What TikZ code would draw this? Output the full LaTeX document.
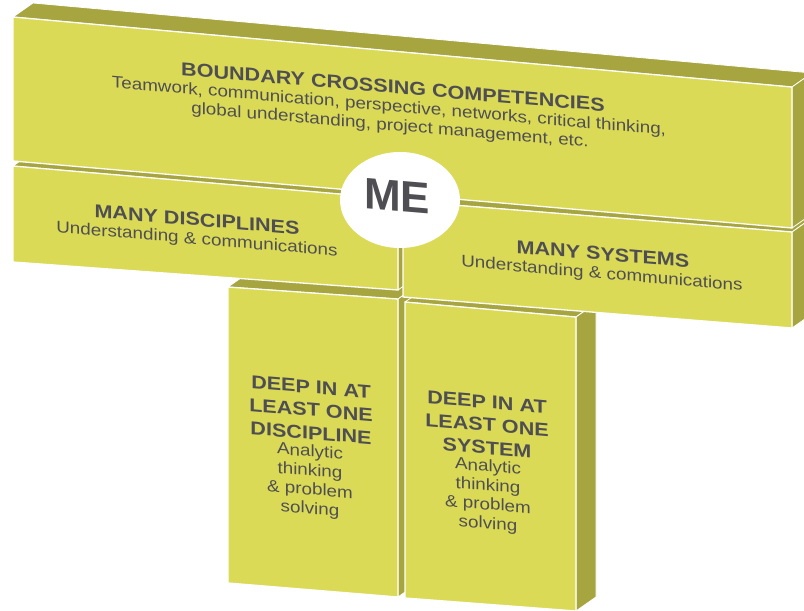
\documentclass[tikz,border=0pt]{standalone}
\usepackage{fontspec}
\setmainfont{Liberation Sans}
\usetikzlibrary{calc,shapes.geometric}
\definecolor{faceyellow}{HTML}{DBDA57}
\definecolor{sideolive}{HTML}{A7A53F}
\definecolor{labelgray}{HTML}{4F4F53}
% A slab seen from the front: its top face, its right side face and its front face.
% Arguments: front corners top-left, top-right, bottom-right, bottom-left.
\newcommand\slab[4]{%
  \path[shade] #1 -- #2 -- ($#2+(20,-14)$) -- ($#1+(20,-14)$) -- cycle;
  \path[shade] #2 -- ($#2+(20,-14)$) -- ($#3+(20,-14)$) -- #3 -- cycle;
  \path[face] #1 -- #2 -- #3 -- #4 -- cycle;
}
\begin{document}
\begin{tikzpicture}[x=1pt,y=-1pt,
  face/.style={fill=faceyellow, draw=white, line width=1.3pt, line join=miter},
  shade/.style={fill=sideolive, draw=white, line width=0.8pt, line join=round},
  lbl/.style={text=labelgray, inner sep=0pt, align=center, yslant=-0.085},
  head/.style={lbl, xscale=1.16, font=\bfseries\fontsize{18.6pt}{23pt}\selectfont},
  body/.style={lbl, xscale=1.14, font=\fontsize{16.5pt}{19pt}\selectfont},
]
\useasboundingbox (0,0) rectangle (804,611);
\clip (0,0) rectangle (804,611);

% the two columns
\slab{(228,287)}{(398,299)}{(398,597)}{(228,583)}
\slab{(405,302)}{(576,317)}{(576,611)}{(405,598)}
% the two middle bars
\slab{(13,166)}{(398,199)}{(398,290)}{(13,262)}
\slab{(403,201)}{(792,232)}{(792,328)}{(403,297)}
% the top bar
\slab{(13,17)}{(792,87)}{(792,228)}{(13,161)}

% centre disc
\node[ellipse, fill=white, minimum width=120pt, minimum height=96pt, inner sep=0pt] (disc) at (400,200) {};
\node[lbl, font=\bfseries\fontsize{44pt}{46pt}\selectfont] (me) at (397,196) {ME};

% top bar labels
\node[head] (bc) at (393,87) {BOUNDARY CROSSING COMPETENCIES};
\node[body] (bc1) at (389,107) {Teamwork, communication, perspective, networks, critical thinking,};
\node[body] (bc2) at (390,126) {global understanding, project management, etc.};

% middle bar labels
\node[head] (md) at (197,219.5) {MANY DISCIPLINES};
\node[body] (md1) at (197,240) {Understanding \& communications};
\node[head] (ms) at (603,254) {MANY SYSTEMS};
\node[body] (ms1) at (602,274.5) {Understanding \& communications};

% column labels
\node[head] (dd) at (311,410) {DEEP IN AT\\LEAST ONE\\DISCIPLINE};
\node[body] (dd1) at (310,481) {Analytic\\thinking\\\& problem\\solving};
\node[head] (ds) at (487,425) {DEEP IN AT\\LEAST ONE\\SYSTEM};
\node[body] (ds1) at (488,496) {Analytic\\thinking\\\& problem\\solving};
\end{tikzpicture}
\end{document}
